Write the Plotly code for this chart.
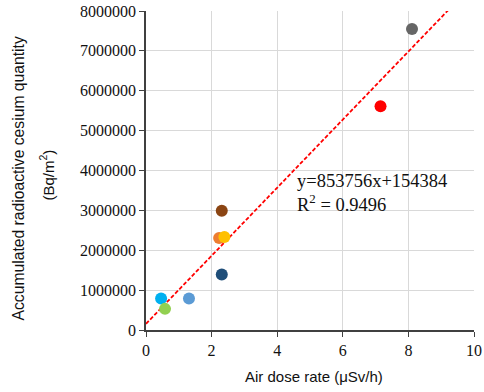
import plotly.graph_objects as go

# Data
dose = [8.11, 7.15, 2.31, 2.23, 2.39, 2.31, 1.31, 0.46, 0.58]
cesium = [7550000, 5610000, 2990000, 2310000, 2330000, 1390000, 790000, 790000, 530000]
colors = ["#666666", "#FF0000", "#8B4513", "#ED7D31", "#FFC000", "#1F4E79", "#5B9BD5", "#00B0F0", "#92D050"]
slope = 853756
intercept = 154384
trend_x = [0, 9.6]
trend_y = [slope * x + intercept for x in trend_x]
x_ticks = [0, 2, 4, 6, 8, 10]
y_ticks = [0, 1000000, 2000000, 3000000, 4000000, 5000000, 6000000, 7000000, 8000000]

fig = go.Figure()
fig.add_trace(go.Scatter(x=trend_x, y=trend_y, mode="lines",
                         line=dict(color="#FF0000", width=1.8, dash="4px,2px"),
                         showlegend=False, hoverinfo="skip"))
fig.add_trace(go.Scatter(x=dose, y=cesium, mode="markers",
                         marker=dict(color=colors, size=12, line=dict(width=0)),
                         showlegend=False))

serif = "Liberation Serif"
sans = "Liberation Sans"

fig.update_layout(
    width=484, height=392,
    margin=dict(l=146, r=10, t=11, b=62, autoexpand=False),
    paper_bgcolor="white", plot_bgcolor="white",
    xaxis=dict(range=[0, 10], tickvals=x_ticks, ticktext=[str(v) for v in x_ticks],
               automargin=False,
               showgrid=True, gridcolor="#D9D9D9", gridwidth=1.3,
               showline=True, linecolor="#404040", linewidth=1.5,
               ticks="outside", ticklen=5, tickcolor="#404040",
               tickfont=dict(family=serif, size=16, color="#111"),
               zeroline=False),
    yaxis=dict(range=[0, 8000000], tickvals=y_ticks, ticktext=[str(v) for v in y_ticks],
               automargin=False,
               showgrid=True, gridcolor="#D9D9D9", gridwidth=1.3,
               showline=True, linecolor="#404040", linewidth=1.5,
               ticks="outside", ticklen=5, tickcolor="#404040",
               tickfont=dict(family=serif, size=16, color="#111"),
               zeroline=False),
    annotations=[
        dict(text="y=853756x+154384<br>R<sup>2</sup> = 0.9496", xref="x", yref="y",
             x=4.55, y=3430000, xanchor="left", yanchor="middle", showarrow=False, align="left",
             font=dict(family=serif, size=18.5, color="#111")),
        dict(text="Air dose rate (μSv/h)", xref="paper", yref="paper",
             x=0.5, y=0, xshift=4, yshift=-46, showarrow=False,
             xanchor="center", yanchor="middle",
             font=dict(family=sans, size=15, color="#111")),
        dict(text="Accumulated radioactive cesium quantity", xref="paper", yref="paper",
             x=0, y=0.5, xshift=-128, yshift=-8, textangle=-90, showarrow=False,
             xanchor="center", yanchor="middle",
             font=dict(family=sans, size=15.7, color="#111")),
        dict(text="(Bq/m<sup>2</sup>)", xref="paper", yref="paper",
             x=0, y=0.5, xshift=-99, yshift=-5, textangle=-90, showarrow=False,
             xanchor="center", yanchor="middle",
             font=dict(family=sans, size=15, color="#111")),
    ],
)

fig.write_html("out.html")
